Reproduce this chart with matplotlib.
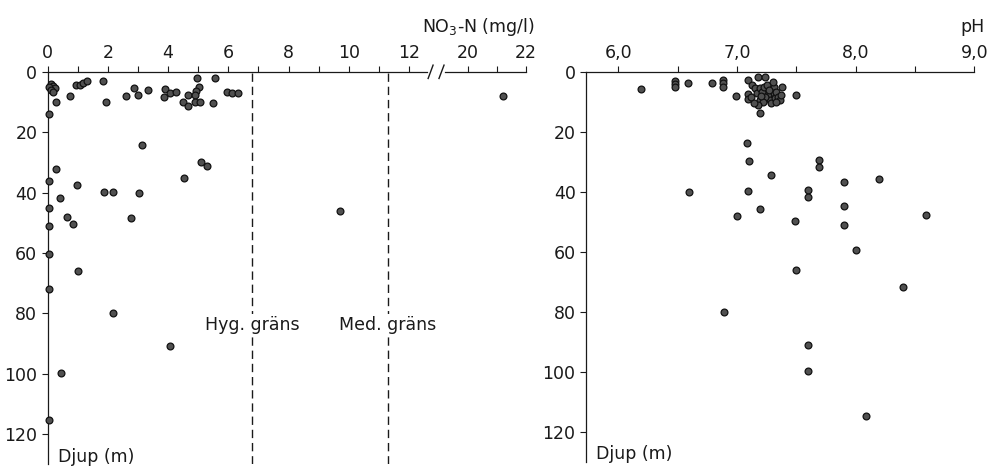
import numpy as np
import matplotlib
matplotlib.use("Agg")
import matplotlib.pyplot as plt

plt.rcParams['font.family'] = ['DejaVu Sans']
plt.rcParams['font.size'] = 12.5

# NO3-N (mg/l) against depth (m)
no3 = [0.10, 0.17, 0.05, 0.24, 0.10, 0.17, 0.28, 0.05, 0.74, 0.94,
       1.07, 1.18, 1.30, 1.83, 1.94, 2.60, 2.87, 3.00, 3.33, 3.90,
       3.87, 4.06, 4.27, 4.67, 4.95, 5.02, 4.93, 4.88, 4.48, 4.67,
       4.89, 5.06, 5.48, 5.56, 5.97, 6.12, 6.33,
       3.12, 0.28, 0.04, 0.96, 1.87, 2.16, 3.04, 0.41, 0.04, 0.65,
       0.85, 0.04, 2.76, 4.52, 5.09, 5.28, 9.72, 0.04, 1.00, 0.05,
       2.16, 4.07, 0.44, 0.04]
no3_depth = [4.0, 4.7, 5.1, 5.5, 6.0, 6.6, 9.9, 14.0, 7.9, 4.3,
             4.5, 3.7, 2.9, 3.1, 10.1, 8.1, 5.5, 7.6, 6.1, 5.6,
             8.4, 6.9, 6.8, 7.7, 2.2, 5.1, 6.3, 7.6, 9.9, 11.2,
             9.9, 9.9, 10.2, 2.2, 6.7, 7.1, 6.9,
             24.2, 32.2, 36.1, 37.4, 39.9, 39.9, 40.0, 41.9, 45.0, 48.0,
             50.3, 51.2, 48.3, 35.2, 29.9, 31.3, 46.2, 60.3, 66.0, 72.0,
             80.0, 90.9, 99.8, 115.2]
# value beyond the axis break
no3_high = [21.22]
no3_high_depth = [8.0]

limits = [6.8, 11.3]
limit_names = ['Hyg. gräns', 'Med. gräns']

# pH against depth (m)
ph = [6.19, 6.48, 6.48, 6.48, 6.59, 6.79, 6.88, 6.88, 6.88, 6.99,
      7.09, 7.18, 7.24, 7.50, 7.19,
      7.13, 7.15, 7.09, 7.09, 7.12, 7.17, 7.19, 7.19, 7.21, 7.23,
      7.25, 7.26, 7.28, 7.29, 7.31, 7.31, 7.32, 7.33, 7.35, 7.36,
      7.38, 7.37, 7.33, 7.24, 7.22, 7.18, 7.14, 7.27, 7.20, 7.30,
      7.087, 7.10, 7.29, 7.69, 7.69, 7.90, 8.20, 6.60, 7.095, 7.60,
      7.60, 7.19, 7.00, 7.49, 7.90, 7.90, 8.59, 8.00, 7.50, 8.40,
      6.89, 7.60, 7.595, 8.09]
ph_depth = [5.9, 3.0, 4.1, 5.2, 3.8, 3.9, 2.8, 3.9, 5.0, 8.0,
            2.8, 1.9, 1.7, 7.8, 13.7,
            4.4, 5.5, 7.5, 9.2, 8.3, 7.2, 5.5, 9.4, 6.7, 5.2,
            4.4, 7.8, 9.4, 10.5, 5.2, 7.2, 8.9, 6.7, 8.3, 9.4,
            5.2, 7.8, 10.0, 8.3, 10.0, 11.0, 10.3, 6.2, 8.0, 3.6,
            23.7, 29.9, 34.5, 29.5, 31.8, 36.9, 35.9, 40.1, 39.8, 39.4,
            41.9, 45.8, 48.0, 49.9, 44.7, 51.0, 47.9, 59.5, 66.0, 71.9,
            80.1, 91.0, 99.9, 114.9]

depth_ticks = [0, 20, 40, 60, 80, 100, 120]
ph_ticks = [6.0, 7.0, 8.0, 9.0]
ph_labels = ['6,0', '7,0', '8,0', '9,0']

ink = '#1a1a1a'
W, H = 988, 466


def px_box(x0, x1, y0, y1):
    # pixel box -> figure fraction [left, bottom, width, height]
    return [x0 / W, 1 - y1 / H, (x1 - x0) / W, (y1 - y0) / H]


def style(ax, left=True):
    ax.xaxis.tick_top()
    for s in ['right', 'bottom']:
        ax.spines[s].set_visible(False)
    for s in ['top', 'left']:
        ax.spines[s].set_linewidth(0.9)
        ax.spines[s].set_color(ink)
    ax.spines['left'].set_visible(left)
    ax.tick_params(axis='x', which='both', direction='out', length=4,
                   width=0.8, pad=3, colors=ink)
    ax.tick_params(axis='y', direction='out', length=4.5, width=0.8,
                   pad=3, colors=ink)
    ax.set_ylim(130, 0)
    ax.set_yticks(depth_ticks if left else [])
    ax.patch.set_alpha(0)


def dots(ax, x, y):
    ax.scatter(x, y, s=24, facecolor='#505050', edgecolor='#111111',
               linewidth=0.9, zorder=3, clip_on=False)


def slash(ax, x0, x1):
    # short oblique stroke across the top spine, in axes fractions
    ax.plot([x0, x1], [0.983, 1.017], transform=ax.transAxes, color=ink,
            lw=1.0, clip_on=False)


fig = plt.figure(figsize=(9.88, 4.66), dpi=100)

# left panel, split at the axis break
ax_a = fig.add_axes(px_box(47.7, 427.0, 71.8, 464.4))
ax_b = fig.add_axes(px_box(445.0, 526.2, 71.8, 464.4))
style(ax_a)
style(ax_b, left=False)
ax_a.set_xlim(0, 12.6)
ax_a.set_xticks(range(0, 13, 2))
ax_a.set_xticks(range(1, 13, 2), minor=True)
ax_b.set_xlim(19.22, 22.0)
ax_b.set_xticks([20, 22])
ax_b.set_xticks([21], minor=True)
ax_b.tick_params(axis='y', length=0)

dots(ax_a, no3, no3_depth)
dots(ax_b, no3_high, no3_high_depth)

for xv, name in zip(limits, limit_names):
    ax_a.axvline(xv, color=ink, lw=1.0, linestyle=(0, (6, 3.5)), zorder=1)
    ax_a.text(xv, 84, name, ha='center', va='center', color=ink,
              bbox=dict(facecolor='white', edgecolor='none', pad=1.5),
              zorder=2)

ax_a.text(0.35, 127.5, 'Djup (m)', ha='left', va='center', color=ink)

slash(ax_a, 1.003, 1.016)
slash(ax_b, -0.074, -0.012)

fig.text(535 / W, 1 - 27 / H, 'NO$_3$-N (mg/l)', ha='right', va='center',
         color=ink)

# right panel: pH
ax_r = fig.add_axes(px_box(586.0, 974.3, 71.7, 461.7))
style(ax_r)
ax_r.set_xlim(5.728, 9.0)
ax_r.set_xticks(ph_ticks)
ax_r.set_xticklabels(ph_labels)
ax_r.set_xticks([6.5, 7.5, 8.5], minor=True)
dots(ax_r, ph, ph_depth)
ax_r.text(5.81, 127.5, 'Djup (m)', ha='left', va='center', color=ink)
fig.text(985 / W, 1 - 27 / H, 'pH', ha='right', va='center', color=ink)

fig.savefig('out.png', dpi=100)
